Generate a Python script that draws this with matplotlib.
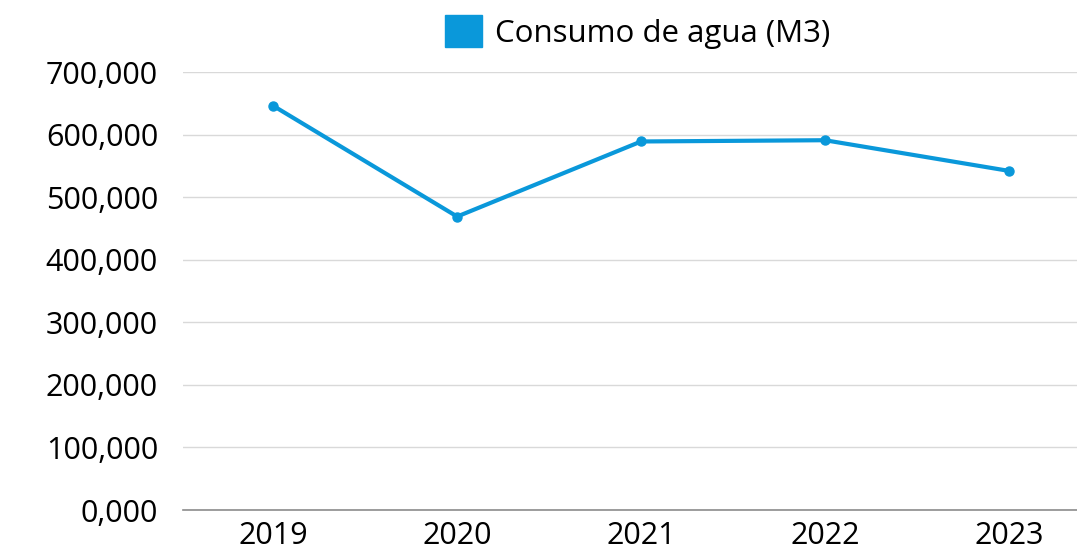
import matplotlib.pyplot as plt

# Datos
years = ['2019', '2020', '2021', '2022', '2023']
consumo = [646000, 469000, 589000, 591000, 542000]
y_ticks = [0, 100000, 200000, 300000, 400000, 500000, 600000, 700000]
y_labels = ['0,000', '100,000', '200,000', '300,000', '400,000',
            '500,000', '600,000', '700,000']

plt.rcParams['font.family'] = ['Open Sans', 'DejaVu Sans']

fig = plt.figure(figsize=(10.77, 5.54), dpi=100)
ax = fig.add_axes([0.17, 0.0794, 0.83, 0.7906])

color = '#0A98DA'
x = list(range(len(years)))
ax.plot(x, consumo, color=color, linewidth=3, marker='o', markersize=6.5,
        solid_capstyle='round')

ax.set_ylim(0, 700000)
ax.set_xlim(-0.49, 4.37)
ax.set_yticks(y_ticks)
ax.set_yticklabels(y_labels)
ax.set_xticks(x)
ax.set_xticklabels(years)
ax.tick_params(axis='both', length=0, labelsize=22, colors='black')
ax.tick_params(axis='y', pad=18)
ax.tick_params(axis='x', pad=8)

ax.grid(axis='y', color='#d9d9d9', linewidth=1)
ax.set_axisbelow(True)
for s in ['left', 'right', 'top']:
    ax.spines[s].set_visible(False)
ax.spines['bottom'].set_color('#8c8c8c')
ax.spines['bottom'].set_linewidth(1.2)

handle = plt.Rectangle((0, 0), 1, 1, color=color)
fig.legend([handle], ['Consumo de agua (M3)'], loc='center',
           bbox_to_anchor=(0.592, 1 - 32 / 554), frameon=False, fontsize=22.5,
           handlelength=1.2, handleheight=1.2, handletextpad=0.4,
           borderpad=0, borderaxespad=0)

fig.savefig('out.png', dpi=100)
